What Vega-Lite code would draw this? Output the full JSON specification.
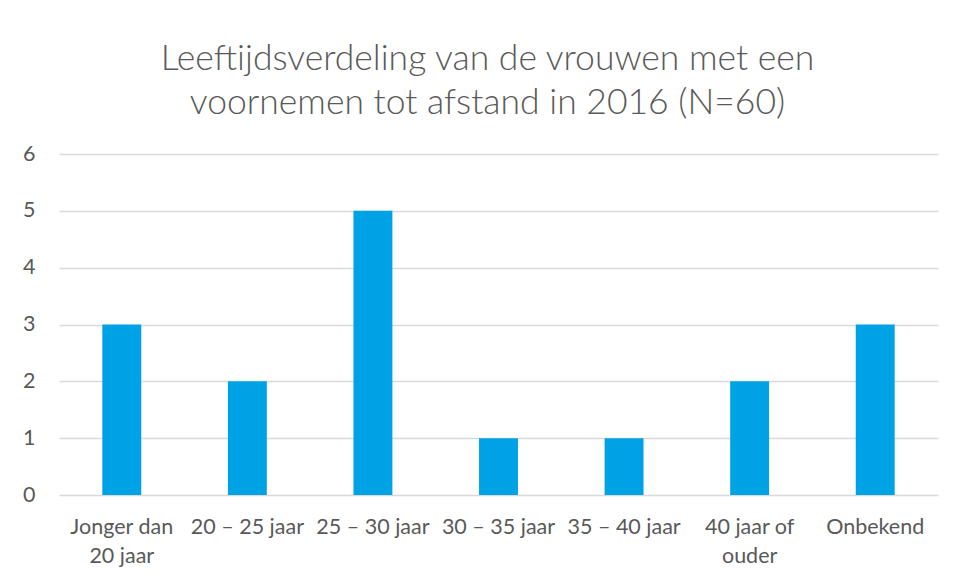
{
  "$schema": "https://vega.github.io/schema/vega-lite/v6.json",
  "autosize": "none",
  "width": 879,
  "height": 341,
  "padding": {"left": 59, "top": 154, "right": 16, "bottom": 84},
  "background": "white",
  "title": {
    "text": ["Leeftijdsverdeling van de vrouwen met een", "voornemen tot afstand in 2016 (N=60)"],
    "font": "Lato",
    "fontSize": 35.5,
    "fontWeight": 300,
    "color": "#595959",
    "lineHeight": 44,
    "anchor": "middle",
    "frame": "group",
    "dx": -11,
    "offset": 22
  },
  "data": {
    "values": [
      {"leeftijd": "Jonger dan 20 jaar", "aantal": 3},
      {"leeftijd": "20 – 25 jaar", "aantal": 2},
      {"leeftijd": "25 – 30 jaar", "aantal": 5},
      {"leeftijd": "30 – 35 jaar", "aantal": 1},
      {"leeftijd": "35 – 40 jaar", "aantal": 1},
      {"leeftijd": "40 jaar of ouder", "aantal": 2},
      {"leeftijd": "Onbekend", "aantal": 3}
    ]
  },
  "mark": {"type": "bar", "color": "#00A2E6"},
  "encoding": {
    "x": {
      "field": "leeftijd",
      "type": "nominal",
      "sort": null,
      "scale": {"paddingInner": 0.69, "paddingOuter": 0.345},
      "axis": {
        "title": null,
        "labelAngle": 0,
        "labelFont": "Lato",
        "labelFontSize": 21.5,
        "labelColor": "#595959",
        "labelPadding": 21,
        "labelLineHeight": 29,
        "labelBaseline": "top",
        "labelOverlap": false,
        "ticks": false,
        "domain": false,
        "grid": false,
        "labelExpr": "datum.value == 'Jonger dan 20 jaar' ? ['Jonger dan', '20 jaar'] : datum.value == '40 jaar of ouder' ? ['40 jaar of', 'ouder'] : datum.value"
      }
    },
    "y": {
      "field": "aantal",
      "type": "quantitative",
      "scale": {"domain": [0, 6]},
      "axis": {
        "title": null,
        "values": [0, 1, 2, 3, 4, 5, 6],
        "labelFont": "Lato",
        "labelFontSize": 21.5,
        "labelColor": "#595959",
        "labelPadding": 24,
        "labelOverlap": false,
        "ticks": false,
        "domain": false,
        "grid": true,
        "gridColor": "#D9D9D9",
        "gridWidth": 1.5
      }
    }
  },
  "config": {"view": {"stroke": null}}
}
